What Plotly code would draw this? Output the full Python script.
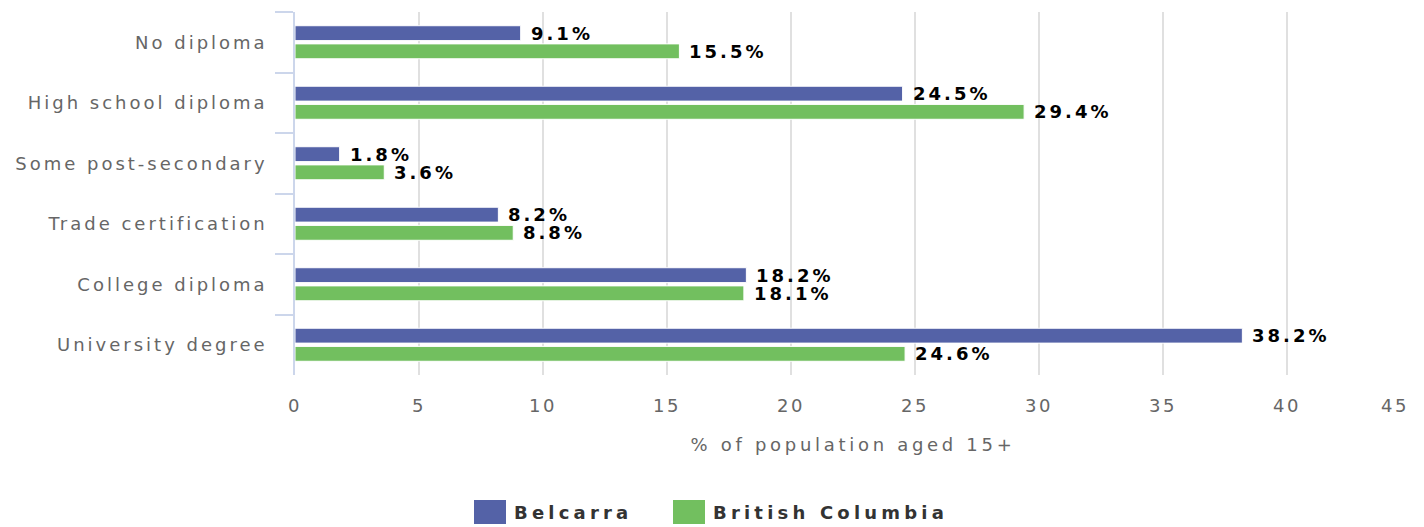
import plotly.graph_objects as go

categories = ["No diploma", "High school diploma", "Some post-secondary",
              "Trade certification", "College diploma", "University degree"]
series_names = ["Belcarra", "British Columbia"]
belcarra = [9.1, 24.5, 1.8, 8.2, 18.2, 38.2]
british_columbia = [15.5, 29.4, 3.6, 8.8, 18.1, 24.6]
x_ticks = [0, 5, 10, 15, 20, 25, 30, 35, 40, 45]
x_title = "% of population aged 15+"

colors = ["#5462a7", "#72bf5f"]
values = [belcarra, british_columbia]
FONT = "DejaVu Sans"

fig = go.Figure()
for name, vals, col in zip(series_names, values, colors):
    fig.add_trace(go.Bar(
        y=categories, x=vals, name=name, orientation="h",
        marker=dict(color=col, line=dict(color="#ffffff", width=1)),
        showlegend=False, hoverinfo="skip",
    ))

annotations = []
shifts = [9, -9]
for vals, ys in zip(values, shifts):
    for cat, v in zip(categories, vals):
        annotations.append(dict(
            x=v, y=cat, xref="x", yref="y", text=f"{v:.1f}%",
            showarrow=False, xanchor="left", yanchor="middle", align="left",
            xshift=8, yshift=ys,
            font=dict(family=FONT, size=18, color="#000000", weight="bold"),
        ))

# legend (manual, to match large square swatches)
leg_x = [474, 673]
legend_texts = []
for name, col, lx in zip(series_names, colors, leg_x):
    fig.add_shape(type="rect", xref="paper", yref="paper",
                  x0=(lx - 295) / 1116, x1=(lx + 32 - 295) / 1116,
                  y0=-(524 - 375) / 363, y1=-(500 - 375) / 363,
                  fillcolor=col, line=dict(width=0))
    annotations.append(dict(
        x=(lx + 38 - 295) / 1116, y=-(512 - 375) / 363, xref="paper", yref="paper",
        text=name, showarrow=False, xanchor="left", yanchor="middle", align="left",
        font=dict(family=FONT, size=18, color="#333333", weight="bold"),
        name="legend",
    ))

fig.update_layout(
    width=1424, height=527,
    margin=dict(l=295, r=13, t=12, b=152, autoexpand=False),
    paper_bgcolor="#ffffff", plot_bgcolor="#ffffff",
    barmode="group", bargap=0.4, bargroupgap=0.18,
    font=dict(family=FONT, size=18, color="#666666"),
    annotations=annotations,
    showlegend=False,
)
fig.update_xaxes(
    automargin=False,
    range=[0, 45], tickvals=x_ticks, showgrid=True, gridcolor="#e0e0e0", gridwidth=1.5,
    zeroline=False, showline=False, ticks="", ticklabelstandoff=18,
    tickfont=dict(family=FONT, size=18, color="#666666"),
    title=dict(text=x_title, standoff=23, font=dict(family=FONT, size=18, color="#666666")),
)
fig.update_yaxes(
    automargin=False,
    autorange="reversed", showgrid=False, zeroline=False,
    showline=True, linecolor="#ccd6eb", linewidth=1.5,
    ticks="outside", tickson="boundaries", ticklen=18, tickcolor="#ccd6eb", tickwidth=1.5,
    ticklabelstandoff=22,
    tickfont=dict(family=FONT, size=18, color="#666666"),
)

post = """
document.body.style.margin = '0';
document.body.style.overflow = 'hidden';
var gd = document.getElementById('{plot_id}');
function applySpacing(){
  gd.querySelectorAll('.ytick text').forEach(function(t){ t.style.letterSpacing='3px'; });
  gd.querySelectorAll('.xtick text').forEach(function(t){ t.style.letterSpacing='2.5px'; });
  gd.querySelectorAll('.g-xtitle text').forEach(function(t){ t.style.letterSpacing='3.7px'; });
  gd.querySelectorAll('.annotation-text').forEach(function(t){
    var txt = t.textContent;
    if (txt.indexOf('%') >= 0) { t.style.letterSpacing='3px'; }
    else { t.style.letterSpacing='4.2px'; }
  });
  var xt = gd.querySelectorAll('.xtick text');
  if (xt.length) { xt[xt.length-1].setAttribute('dx', '-16'); }
}
applySpacing();
gd.on('plotly_afterplot', applySpacing);
"""
fig.write_html("out.html", post_script=post, config={"displayModeBar": False})
